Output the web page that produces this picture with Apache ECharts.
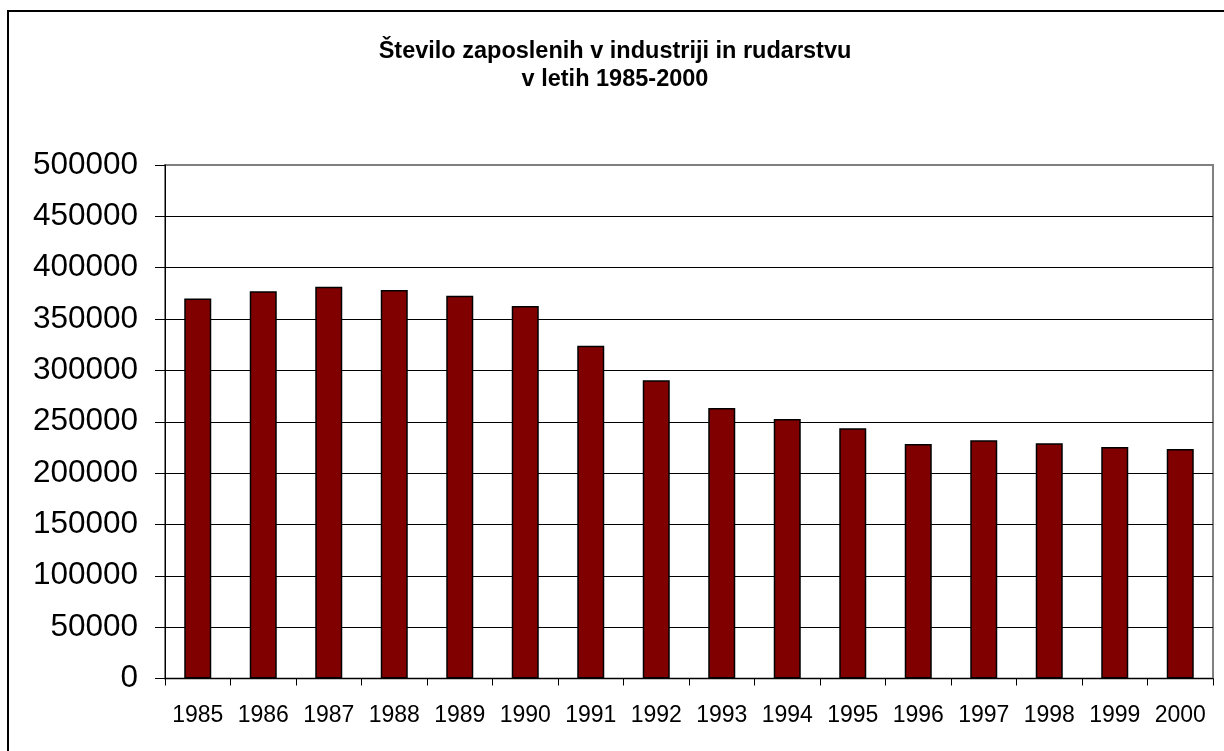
<!DOCTYPE html>
<html>
<head>
<meta charset="utf-8">
<script src="https://cdn.jsdelivr.net/npm/echarts@6/dist/echarts.min.js"></script>
<style>
  html, body { margin: 0; padding: 0; background: #fff; }
  #main { width: 1224px; height: 751px; }
</style>
</head>
<body>
<div id="main"></div>
<script>
const years = ['1985', '1986', '1987', '1988', '1989', '1990', '1991', '1992',
  '1993', '1994', '1995', '1996', '1997', '1998', '1999', '2000'];
const zaposleni = [370000, 377000, 381500, 378300, 372700, 362700, 324000, 290300,
  263400, 252700, 243600, 228300, 231900, 229000, 225400, 223500];

let myChart = echarts.init(document.getElementById('main'));
myChart.setOption({
  animation: false,
  backgroundColor: '#fff',
  textStyle: { fontFamily: 'Liberation Sans, Arial, sans-serif' },
  title: {
    text: 'Število zaposlenih v industriji in rudarstvu\nv letih 1985-2000',
    left: 610,
    top: 33,
    textAlign: 'center',
    textStyle: { fontSize: 23.5, fontWeight: 'bold', color: '#000', lineHeight: 28 }
  },
  graphic: [{
    type: 'rect',
    shape: { x: 8, y: 11, width: 1240, height: 770 },
    style: { fill: 'none', stroke: '#000', lineWidth: 2 },
    silent: true
  }],
  grid: {
    left: 165, right: 11, top: 165, bottom: 72.5,
    show: true, borderColor: '#808080', borderWidth: 2
  },
  xAxis: {
    type: 'category',
    data: years,
    axisLine: { lineStyle: { color: '#000', width: 1 } },
    axisTick: { show: true, length: 7, lineStyle: { color: '#000' } },
    axisLabel: { interval: 0, fontSize: 23, color: '#000', margin: 26 }
  },
  yAxis: {
    type: 'value',
    min: 0, max: 500000, interval: 50000,
    axisLine: { show: true, lineStyle: { color: '#000', width: 1 } },
    axisTick: { show: true, length: 10, lineStyle: { color: '#000' } },
    axisLabel: { fontSize: 31.5, color: '#000', margin: 27, formatter: v => String(v) },
    splitLine: { showMaxLine: false, lineStyle: { color: '#000', width: 1 } }
  },
  series: [{
    name: 'Število zaposlenih',
    type: 'bar',
    barWidth: 27,
    data: zaposleni,
    itemStyle: { color: '#800000', borderColor: '#000', borderWidth: 1.5 }
  }]
});
</script>
</body>
</html>
